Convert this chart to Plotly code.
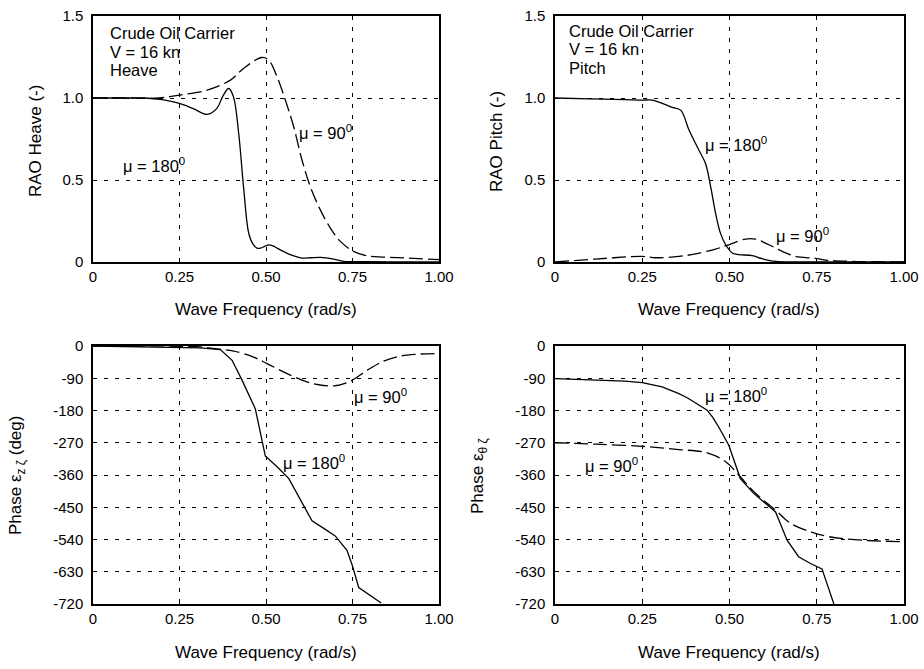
import plotly.graph_objects as go
from plotly.subplots import make_subplots

# Wave frequency grids (rad/s) and responses, crude oil carrier at V = 16 kn

# Heave RAO, head waves (mu = 180 deg)
heave_rao_180_w = [0.0, 0.10, 0.15, 0.20, 0.25, 0.29, 0.33, 0.358, 0.375, 0.392, 0.406,
                   0.421, 0.435, 0.45, 0.462, 0.474, 0.484, 0.496, 0.508, 0.52, 0.532,
                   0.55, 0.57, 0.604, 0.63, 0.657, 0.696, 0.725, 0.80, 0.90, 1.0]
heave_rao_180 = [1.0, 1.0, 1.0, 0.99, 0.967, 0.935, 0.90, 0.937, 1.01, 1.058, 1.007,
                 0.785, 0.46, 0.176, 0.11, 0.085, 0.085, 0.095, 0.105, 0.098, 0.085,
                 0.065, 0.045, 0.024, 0.026, 0.028, 0.018, 0.004, 0.002, 0.001, 0.0]

# Heave RAO, beam waves (mu = 90 deg)
heave_rao_90_w = [0.0, 0.10, 0.19, 0.25, 0.33, 0.397, 0.435, 0.488, 0.508, 0.532, 0.556,
                  0.58, 0.604, 0.628, 0.657, 0.686, 0.715, 0.753, 0.79, 0.84, 0.907, 1.0]
heave_rao_90 = [1.0, 1.0, 1.0, 1.018, 1.048, 1.109, 1.18, 1.247, 1.23, 1.129, 0.987,
                0.825, 0.622, 0.46, 0.318, 0.207, 0.126, 0.065, 0.039, 0.030, 0.024, 0.014]

# Pitch RAO, head waves
pitch_rao_180_w = [0.0, 0.10, 0.20, 0.25, 0.279, 0.307, 0.336, 0.36, 0.384, 0.412, 0.431,
                   0.446, 0.46, 0.474, 0.489, 0.508, 0.527, 0.565, 0.594, 0.632, 0.70, 0.85, 1.0]
pitch_rao_180 = [1.0, 0.995, 0.99, 0.987, 0.987, 0.967, 0.943, 0.926, 0.805, 0.683, 0.602,
                 0.46, 0.298, 0.176, 0.105, 0.055, 0.045, 0.039, 0.02, 0.004, 0.001, 0.0, 0.0]

# Pitch RAO, beam waves
pitch_rao_90_w = [0.0, 0.116, 0.25, 0.288, 0.355, 0.403, 0.46, 0.498, 0.546, 0.574, 0.613,
                  0.651, 0.689, 0.746, 0.784, 0.85, 1.0]
pitch_rao_90 = [0.0, 0.018, 0.034, 0.026, 0.034, 0.05, 0.079, 0.105, 0.14, 0.14, 0.105,
                0.065, 0.034, 0.022, 0.01, 0.004, 0.0]

# Heave phase (deg), head waves
heave_ph_180_w = [0.0, 0.25, 0.31, 0.368, 0.402, 0.431, 0.469, 0.498, 0.532, 0.566, 0.60,
                  0.633, 0.667, 0.70, 0.734, 0.749, 0.768, 0.802, 0.833]
heave_ph_180 = [0, -3, -5, -10, -40, -96, -175, -307, -337, -370, -430,
                -488, -509, -530, -570, -611, -674, -697, -717]

# Heave phase (deg), beam waves
heave_ph_90_w = [0.0, 0.30, 0.368, 0.407, 0.464, 0.503, 0.561, 0.628, 0.696, 0.744, 0.792,
                 0.84, 0.888, 0.936, 1.0]
heave_ph_90 = [0, -2, -9, -14, -31, -49, -77, -103, -111, -98, -68,
               -42, -28, -23, -21]

# Pitch phase (deg), head waves
pitch_ph_180_w = [0.0, 0.116, 0.20, 0.25, 0.307, 0.355, 0.38, 0.403, 0.42, 0.436, 0.452,
                  0.469, 0.498, 0.531, 0.57, 0.598, 0.632, 0.665, 0.698, 0.732, 0.765, 0.799]
pitch_ph_180 = [-91, -94, -98, -102, -114, -133, -145, -159, -169, -179, -199,
                -226, -277, -370, -412, -435, -463, -542, -588, -607, -622, -720]

# Pitch phase (deg), beam waves
pitch_ph_90_w = [0.0, 0.116, 0.25, 0.355, 0.436, 0.489, 0.531, 0.57, 0.632, 0.675, 0.737,
                 0.784, 0.88, 1.0]
pitch_ph_90 = [-270, -274, -280, -289, -298, -323, -365, -407, -458, -495, -520,
               -532, -542, -546]

freq_ticks = [0, 0.25, 0.5, 0.75, 1.0]
freq_ticktext = ["0", "0.25", "0.50", "0.75", "1.00"]
rao_ticks = [0, 0.5, 1.0, 1.5]
rao_ticktext = ["0", "0.5", "1.0", "1.5"]
phase_ticks = [0, -90, -180, -270, -360, -450, -540, -630, -720]
phase_ticktext = [str(v) for v in phase_ticks]

FONT = "Liberation Sans, Arial, sans-serif"
SOLID = dict(color="black", width=1.3)
DASHED = dict(color="black", width=1.3, dash="14px,5px")

fig = make_subplots(rows=2, cols=2)

# (row, col, head-sea x, y, shape, beam-sea x, y)
panels = [
    (1, 1, heave_rao_180_w, heave_rao_180, "spline", heave_rao_90_w, heave_rao_90),
    (1, 2, pitch_rao_180_w, pitch_rao_180, "spline", pitch_rao_90_w, pitch_rao_90),
    (2, 1, heave_ph_180_w, heave_ph_180, "linear", heave_ph_90_w, heave_ph_90),
    (2, 2, pitch_ph_180_w, pitch_ph_180, "linear", pitch_ph_90_w, pitch_ph_90),
]
for r, c, x180, y180, shape, x90, y90 in panels:
    fig.add_trace(go.Scatter(x=x180, y=y180, mode="lines", line=SOLID,
                             line_shape=shape, showlegend=False), row=r, col=c)
    fig.add_trace(go.Scatter(x=x90, y=y90, mode="lines", line=DASHED,
                             line_shape="spline", showlegend=False), row=r, col=c)

W, H = 924, 669
x_dom_left = [93 / W, 439 / W]
x_dom_right = [555 / W, 904 / W]
y_dom_top = [1 - 262 / H, 1 - 16 / H]
y_dom_bot = [1 - 604 / H, 1 - 346 / H]

common_axis = dict(
    automargin=False,
    showline=True, linecolor="black", linewidth=1.5, mirror=True,
    showgrid=True, gridcolor="black", gridwidth=1, griddash="4px,7px",
    zeroline=False, ticks="inside", ticklen=4, tickcolor="black",
    tickfont=dict(family=FONT, size=15, color="black"),
)

for i, dom in zip(["", "2", "3", "4"], [x_dom_left, x_dom_right, x_dom_left, x_dom_right]):
    fig.layout["xaxis" + i].update(domain=dom, range=[0, 1], tickvals=freq_ticks,
                                   ticktext=freq_ticktext, **common_axis)

for k, (i, dom) in enumerate(zip(["", "2", "3", "4"],
                                  [y_dom_top, y_dom_top, y_dom_bot, y_dom_bot])):
    if k < 2:
        rng, tv, tt = [0, 1.5], rao_ticks, rao_ticktext
    else:
        rng, tv, tt = [-720, 0], phase_ticks, phase_ticktext
    fig.layout["yaxis" + i].update(domain=dom, range=rng, tickvals=tv, ticktext=tt,
                                   ticklabelstandoff=5, **common_axis)

title_font = dict(family=FONT, size=17, color="black")

# Axis titles placed in pixel terms on the paper
xtitle_pos = [(266, 309), (729, 309), (266, 652), (729, 652)]
for px, py in xtitle_pos:
    fig.add_annotation(text="Wave Frequency (rad/s)", x=px / W, y=1 - py / H,
                       xref="paper", yref="paper", showarrow=False,
                       xanchor="center", yanchor="middle", font=title_font)

ytitles = ["RAO Heave (-)", "RAO Pitch (-)",
           "Phase ε<sub>z ζ</sub> (deg)", "Phase ε<sub>θ ζ</sub>"]
ytitle_pos = [(36, 141), (497, 141), (17, 476), (479, 476)]
for text, (px, py) in zip(ytitles, ytitle_pos):
    fig.add_annotation(text=text, x=px / W, y=1 - py / H, xref="paper", yref="paper",
                       showarrow=False, textangle=-90, xanchor="center",
                       yanchor="middle", font=title_font)

ann_font = dict(family=FONT, size=16.5, color="black")


def label(text, x, y, xref, yref, xanchor="center"):
    fig.add_annotation(text=text, x=x, y=y, xref=xref, yref=yref, showarrow=False,
                       xanchor=xanchor, yanchor="middle", font=ann_font)


# Case description blocks
label("Crude Oil Carrier", 0.043, 1.396, "x", "y", "left")
label("V = 16 kn", 0.043, 1.280, "x", "y", "left")
label("Heave", 0.043, 1.171, "x", "y", "left")
label("Crude Oil Carrier", 0.035, 1.410, "x2", "y2", "left")
label("V = 16 kn", 0.035, 1.297, "x2", "y2", "left")
label("Pitch", 0.035, 1.185, "x2", "y2", "left")

# Curve labels
label("μ = 180<sup>0</sup>", 0.175, 0.59, "x", "y")
label("μ = 90<sup>0</sup>", 0.671, 0.795, "x", "y")
label("μ = 180<sup>0</sup>", 0.519, 0.72, "x2", "y2")
label("μ = 90<sup>0</sup>", 0.708, 0.166, "x2", "y2")
label("μ = 90<sup>0</sup>", 0.832, -139, "x3", "y3")
label("μ = 180<sup>0</sup>", 0.638, -323, "x3", "y3")
label("μ = 180<sup>0</sup>", 0.519, -137, "x4", "y4")
label("μ = 90<sup>0</sup>", 0.161, -333, "x4", "y4")

fig.update_layout(
    width=W, height=H, margin=dict(l=0, r=0, t=0, b=0),
    plot_bgcolor="white", paper_bgcolor="white",
    font=dict(family=FONT, color="black"),
)

fig.write_html("out.html")
